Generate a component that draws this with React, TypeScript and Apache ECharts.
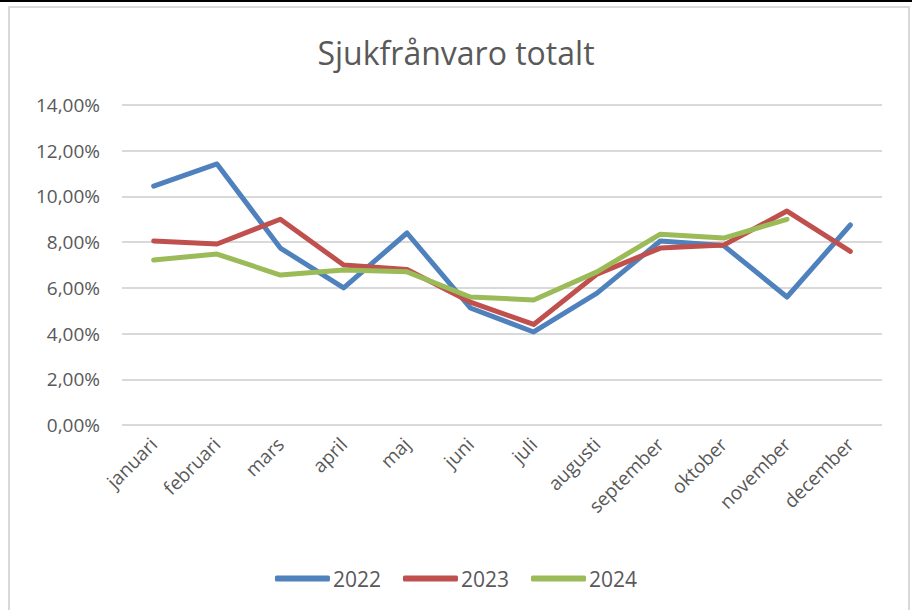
import React, { useEffect, useRef } from "react";
import * as echarts from "echarts";

const months = ["januari", "februari", "mars", "april", "maj", "juni", "juli", "augusti", "september", "oktober", "november", "december"];
const s2022 = [10.45, 11.42, 7.74, 6.0, 8.4, 5.12, 4.07, 5.77, 8.05, 7.85, 5.6, 8.75];
const s2023 = [8.05, 7.92, 9.0, 7.0, 6.8, 5.38, 4.4, 6.6, 7.74, 7.87, 9.36, 7.6];
const s2024 = [7.22, 7.48, 6.56, 6.78, 6.7, 5.6, 5.47, 6.7, 8.35, 8.18, 9.0];
const seriesNames = ["2022", "2023", "2024"];
const colors = ["#4F81BD", "#C0504D", "#9BBB59"];
const title = "Sjukfrånvaro totalt";

export default function App() {
  const ref = useRef<HTMLDivElement>(null);
  useEffect(() => {
    if (!ref.current) return;
    const chart = echarts.init(ref.current, null, { renderer: "svg" });
    const font = "'Open Sans', 'Noto Sans', sans-serif";
    const data = [s2022, s2023, s2024];
    chart.setOption({
      animation: false,
      color: colors,
      title: {
        text: title,
        left: "center",
        top: 31,
        textStyle: { fontFamily: font, fontSize: 32, fontWeight: "normal", color: "#595959" },
      },
      legend: {
        top: 563,
        left: "center",
        itemWidth: 55,
        itemHeight: 6,
        itemGap: 22,
        icon: "roundRect",
        textStyle: { fontFamily: font, fontSize: 21, color: "#595959", padding: [0, 0, 0, -2] },
        data: seriesNames,
      },
      grid: { left: 122, right: 30, top: 105, bottom: 185 },
      xAxis: {
        type: "category",
        data: months,
        boundaryGap: true,
        axisLine: { show: false },
        axisTick: { show: false },
        axisLabel: { rotate: 45, fontFamily: font, fontSize: 19, color: "#595959", margin: 16, interval: 0 },
      },
      yAxis: {
        type: "value",
        min: 0,
        max: 14,
        interval: 2,
        axisLine: { show: false },
        axisTick: { show: false },
        axisLabel: {
          fontFamily: font,
          fontSize: 19,
          color: "#595959",
          margin: 22,
          formatter: (v: number) => v.toFixed(2).replace(".", ",") + "%",
        },
        splitLine: { lineStyle: { color: "#D9D9D9", width: 2 } },
      },
      series: seriesNames.map((n, i) => ({
        name: n,
        type: "line",
        data: data[i],
        symbol: "none",
        lineStyle: { width: 5, color: colors[i], cap: "round", join: "round" },
        itemStyle: { color: colors[i] },
      })),
    });
    return () => chart.dispose();
  }, []);
  return (
    <div style={{ position: "fixed", left: 0, top: 0, width: 912, height: 610, background: "#fff" }}>
      <div style={{ position: "absolute", left: 0, top: 0, width: 912, height: 2, background: "#000" }} />
      <div style={{ position: "absolute", left: 8, top: 6, width: 902, height: 620, border: "2px solid #D9D9D9", boxSizing: "border-box" }} />
      <div ref={ref} style={{ position: "absolute", left: 0, top: 0, width: 912, height: 610 }} />
    </div>
  );
}
